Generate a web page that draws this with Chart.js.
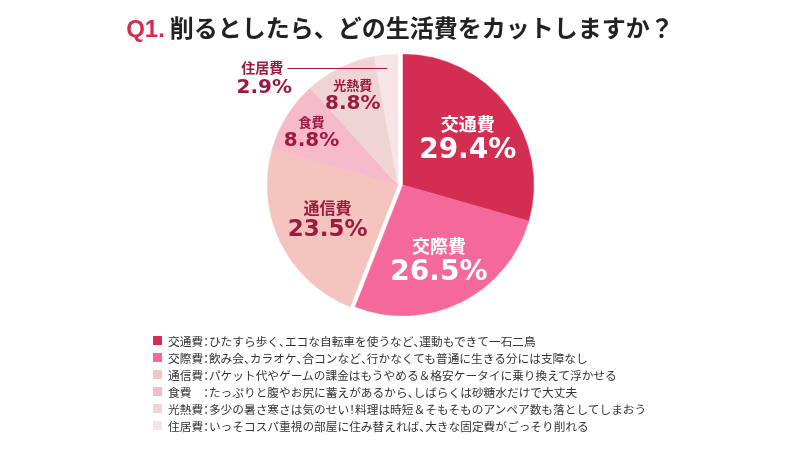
<!DOCTYPE html>
<html><head><meta charset="utf-8">
<script src="https://cdn.jsdelivr.net/npm/chart.js@4"></script>
<style>
html,body{margin:0;padding:0;background:#fff;}
#wrap{position:relative;width:800px;height:450px;overflow:hidden;font-family:'Noto Sans CJK JP',sans-serif;}
#c{position:absolute;left:0;top:0;}
#title{position:absolute;left:0;top:9px;width:800px;text-align:center;font-size:24px;font-weight:bold;color:#222;line-height:36px;white-space:nowrap;}
#title .q{font-family:'Liberation Sans',Arial,sans-serif;color:#d42d52;margin-right:5px;}
#legend{position:absolute;left:153px;top:332px;font-size:11.7px;color:#333;}
.row{display:flex;align-items:center;white-space:nowrap;height:17px;line-height:17px;}
.sw{width:9px;height:9px;margin-right:6px;flex:none;}
.h{font-feature-settings:"halt";}
</style></head>
<body><div id="wrap">
<canvas id="c" width="800" height="450"></canvas>
<div id="title"><span class="q">Q1.</span>削るとしたら、どの生活費をカットしますか？</div>
<div id="legend"></div>
</div>
<script>
const categories = ['交通費','交際費','通信費','食費','光熱費','住居費'];
const values = [29.4, 26.5, 23.5, 8.8, 8.8, 2.9];
const descriptions = [
  'ひたすら歩く、エコな自転車を使うなど、運動もできて一石二鳥',
  '飲み会、カラオケ、合コンなど、行かなくても普通に生きる分には支障なし',
  'パケット代やゲームの課金はもうやめる＆格安ケータイに乗り換えて浮かせる',
  'たっぷりと腹やお尻に蓄えがあるから、しばらくは砂糖水だけで大丈夫',
  '多少の暑さ寒さは気のせい！料理は時短＆そもそものアンペア数も落としてしまおう',
  'いっそコスパ重視の部屋に住み替えれば、大きな固定費がごっそり削れる'
];
const colors = ['#d42d52','#f5689a','#f5c4bf','#f7bacb','#efd4d4','#f7e5e5'];

const DARK = '#9c1a3e';
const SHIFT_X = 5;

// legend
const lg = document.getElementById('legend');
const HALF = '：、！＆';
categories.forEach((c,i)=>{
  const row = document.createElement('div'); row.className='row';
  const sw = document.createElement('span'); sw.className='sw'; sw.style.background=colors[i];
  const tx = document.createElement('span');
  let name = c; while (name.length < 3) name += '\u3000';
  const full = name + '：' + descriptions[i];
  let buf = '';
  for (const ch of full) {
    if (HALF.includes(ch)) {
      if (buf) { tx.appendChild(document.createTextNode(buf)); buf=''; }
      const s = document.createElement('span'); s.className='h'; s.textContent = ch; tx.appendChild(s);
    } else buf += ch;
  }
  if (buf) tx.appendChild(document.createTextNode(buf));
  row.appendChild(sw); row.appendChild(tx); lg.appendChild(row);
});

const shiftPlugin = {
  id:'shiftTop',
  afterDatasetUpdate(chart, args){
    const meta = args.meta;
    [0,1].forEach(i=>{ if (meta.data[i]) meta.data[i].x += SHIFT_X; });
  }
};

const labelPlugin = {
  id:'sliceLabels',
  afterDatasetsDraw(chart){
    const ctx = chart.ctx;
    const meta = chart.getDatasetMeta(0);
    ctx.save();
    ctx.textAlign='center'; ctx.textBaseline='middle';
    meta.data.forEach((arc,i)=>{
      const p = arc.getProps(['x','y','startAngle','endAngle','outerRadius'], true);
      const mid = (p.startAngle + p.endAngle)/2;
      const v = values[i];
      const pct = v.toFixed(1) + '%';
      if (v < 5) {
        const r = p.outerRadius*0.9;
        const lx = p.x + Math.cos(mid)*r, ly = p.y + Math.sin(mid)*r;
        const ex = lx - 100;
        ctx.strokeStyle = DARK; ctx.lineWidth = 1;
        ctx.beginPath(); ctx.moveTo(lx, Math.round(ly)+0.5); ctx.lineTo(ex, Math.round(ly)+0.5); ctx.stroke();
        ctx.fillStyle = DARK;
        ctx.font = "bold 14px 'Noto Sans CJK JP'";
        ctx.fillText(categories[i], ex-25, ly);
        ctx.font = "bold 20px 'DejaVu Sans'";
        ctx.fillText(pct, ex-23, ly+20);
      } else if (v < 10) {
        const r = p.outerRadius*0.78;
        const cx = p.x + Math.cos(mid)*r, cy = p.y + Math.sin(mid)*r;
        ctx.fillStyle = DARK;
        ctx.font = "bold 13px 'Noto Sans CJK JP'";
        ctx.fillText(categories[i], cx, cy-9);
        ctx.font = "bold 20px 'DejaVu Sans'";
        ctx.fillText(pct, cx, cy+10);
      } else if (i < 2) {
        const r = p.outerRadius*0.62;
        const cx = p.x + Math.cos(mid)*r, cy = p.y + Math.sin(mid)*r;
        ctx.fillStyle = '#ffffff';
        ctx.font = "bold 18px 'Noto Sans CJK JP'";
        ctx.fillText(categories[i], cx, cy-12);
        ctx.font = "bold 28px 'DejaVu Sans'";
        ctx.fillText(pct, cx, cy+15);
      } else {
        const r = p.outerRadius*0.6;
        const cx = p.x + Math.cos(mid)*r, cy = p.y + Math.sin(mid)*r;
        ctx.fillStyle = DARK;
        ctx.font = "bold 16px 'Noto Sans CJK JP'";
        ctx.fillText(categories[i], cx, cy-12);
        ctx.font = "bold 23px 'DejaVu Sans'";
        ctx.fillText(pct, cx, cy+10);
      }
    });
    ctx.restore();
  }
};

new Chart(document.getElementById('c'), {
  type:'pie',
  data:{ labels:categories, datasets:[{ data:values, backgroundColor:colors, borderColor:colors, borderWidth:0.5 }]},
  options:{
    responsive:false, animation:false, events:[],
    layout:{ padding:{ top:54, bottom:134, left:267, right:271 } },
    plugins:{ legend:{display:false}, tooltip:{enabled:false}, title:{display:false} }
  },
  plugins:[shiftPlugin, labelPlugin]
});
</script>
</body></html>
